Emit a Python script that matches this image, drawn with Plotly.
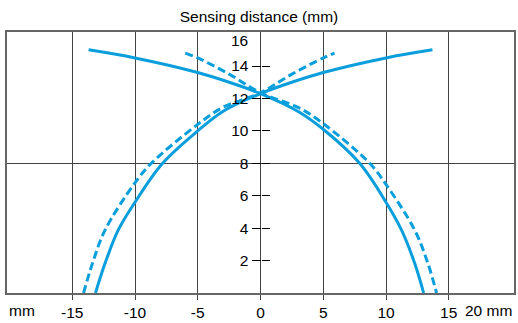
import plotly.graph_objects as go

# solid curve rising from lower left through the centre to upper right
solid_a_x = [-13.15, -12.4, -11.35, -10.0, -7.8, -5.0, -3.0, 0.0, 2.5, 5.0, 10.0, 13.7]
solid_a_y = [0.0, 1.8, 3.86, 5.6, 8.0, 10.0, 11.2, 12.3, 13.0, 13.6, 14.5, 15.0]
# solid curve from upper left through the centre down to lower right
solid_b_x = [-13.7, -10.0, -5.0, -2.5, 0.0, 3.0, 5.0, 7.9, 10.0, 11.25, 12.3, 13.0]
solid_b_y = [15.0, 14.5, 13.6, 13.0, 12.3, 11.2, 10.1, 8.0, 5.6, 3.86, 1.8, 0.0]

# dashed curves
dash_a_x = [-14.1, -13.4, -12.4, -10.0, -8.7, -5.0, -3.0, 0.0, 2.5, 5.0, 5.9]
dash_a_y = [0.0, 1.8, 3.86, 6.8, 8.0, 10.4, 11.45, 12.35, 13.5, 14.5, 14.8]
dash_b_x = [-6.0, -5.0, -2.5, 0.0, 3.0, 5.0, 8.7, 10.0, 12.3, 13.35, 14.03]
dash_b_y = [14.8, 14.5, 13.5, 12.35, 11.45, 10.45, 8.0, 6.7, 3.86, 1.8, 0.0]

x_ticks = [-15, -10, -5, 0, 5, 10, 15]
y_ticks = [2, 4, 6, 8, 10, 12, 14]

blue = '#0A9FDC'
font = dict(family='Liberation Sans, Arial', size=15.5, color='black')

fig = go.Figure()
for xs, ys, dash in [(solid_a_x, solid_a_y, 'solid'), (solid_b_x, solid_b_y, 'solid'),
                     (dash_a_x, dash_a_y, '8px,4px'), (dash_b_x, dash_b_y, '8px,4px')]:
    fig.add_trace(go.Scatter(
        x=xs, y=ys, mode='lines',
        line=dict(color=blue, width=3, dash=dash, shape='spline', smoothing=1.0),
        showlegend=False, hoverinfo='skip'
    ))
# dummy traces so the centre tick axes get drawn
fig.add_trace(go.Scatter(x=[None], y=[None], yaxis='y2', showlegend=False))
fig.add_trace(go.Scatter(x=[None], y=[None], yaxis='y3', showlegend=False))

fig.update_layout(
    width=518, height=323,
    margin=dict(l=7, r=2, t=32, b=29),
    paper_bgcolor='white', plot_bgcolor='white',
    font=font,
    title=dict(text='Sensing distance (mm)', x=0.5, xanchor='center',
               y=1 - 17 / 323, yanchor='middle', yref='container', font=font),
    xaxis=dict(range=[-20.2, 20.2], tickvals=x_ticks, ticktext=[str(v) for v in x_ticks],
               showgrid=True, gridcolor='#444', gridwidth=1, zeroline=False,
               showline=True, mirror=True, linecolor='#666', linewidth=1.5,
               ticks='outside', ticklen=5, tickcolor='#444'),
    yaxis=dict(range=[0, 16.1], tickvals=[8], showticklabels=False,
               showgrid=True, gridcolor='#444', gridwidth=1, zeroline=False,
               showline=True, mirror=True, linecolor='#666', linewidth=1.5, ticks=''),
    yaxis2=dict(range=[0, 16.1], overlaying='y', anchor='free', position=0.5, side='left',
                tickvals=y_ticks, ticks='outside', ticklen=9, tickcolor='black',
                showgrid=False, zeroline=False, showline=False),
    yaxis3=dict(range=[0, 16.1], overlaying='y', anchor='free', position=0.5, side='right',
                tickvals=y_ticks, ticks='outside', ticklen=8, tickcolor='black',
                showticklabels=False, showgrid=False, zeroline=False, showline=False),
    annotations=[
        dict(text='16', x=0, y=15.55, xref='x', yref='y', xanchor='right', yanchor='middle',
             xshift=-11, showarrow=False, font=font),
        dict(text='mm', x=0, y=0, xref='paper', yref='paper', xanchor='left', yanchor='top',
             yshift=-7, showarrow=False, font=font),
        dict(text='20 mm', x=1, y=0, xref='paper', yref='paper', xanchor='right', yanchor='top',
             yshift=-7, showarrow=False, font=font),
    ],
)

# drop the default page margin so the figure sits at the window corner
fig.write_html("out.html", config={'displayModeBar': False},
               post_script="document.body.style.margin='0';")
